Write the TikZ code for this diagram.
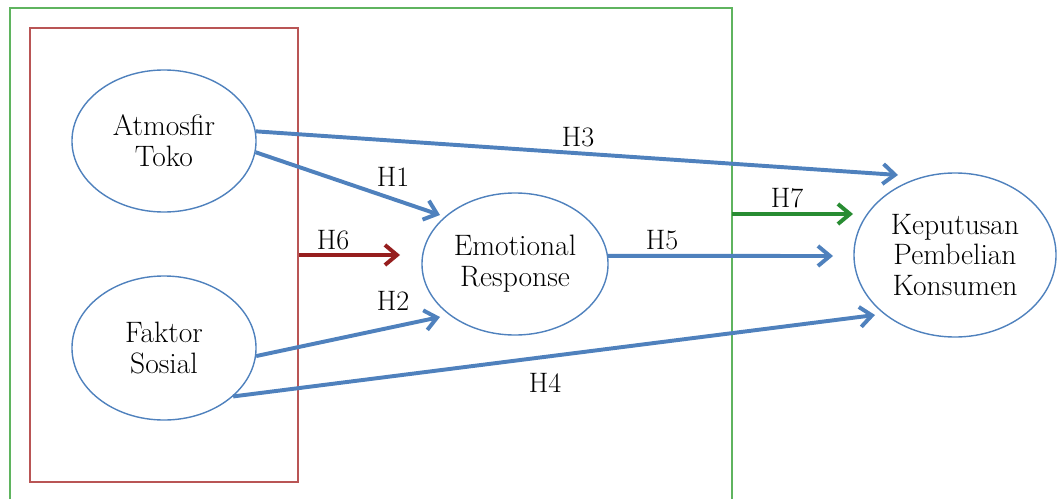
\documentclass[tikz,border=0pt]{standalone}
\usetikzlibrary{shapes.geometric,arrows.meta}
\definecolor{linkblue}{RGB}{79,129,189}
\definecolor{boxred}{RGB}{185,85,85}
\definecolor{darkred}{RGB}{150,30,30}
\definecolor{boxgreen}{RGB}{95,180,95}
\definecolor{darkgreen}{RGB}{40,140,50}
\tikzset{
  var/.style={ellipse,draw=linkblue,line width=1pt,align=center,inner sep=0pt,
    font=\fontsize{21}{22}\selectfont},
  link/.style={line width=2.8pt,-{Straight Barb[length=3mm,width=5mm]}},
  hyp/.style={font=\fontsize{20}{22}\selectfont}
}

\begin{document}
\begin{tikzpicture}[x=0.025cm,y=-0.025cm]
            \useasboundingbox (0,0) rectangle (1057,499);
            \draw[boxgreen,line width=1.6pt] (10,499)--(10,8)--(732,8)--(732,499);
            \coordinate (gr) at (732,214);
            \node[draw=boxred,line width=1.6pt,minimum width=6.7cm,minimum height=11.35cm] (grp) at (164,255) {};
            \node[var,minimum width=4.6cm,minimum height=3.55cm] (atm) at (164,141) {Atmosfir\\Toko};
            \node[var,minimum width=4.6cm,minimum height=3.6cm] (soc) at (164,348) {Faktor\\Sosial};
            \node[var,minimum width=4.65cm,minimum height=3.55cm] (emo) at (515,264) {Emotional\\Response};
            \node[var,minimum width=5.05cm,minimum height=4.1cm] (kpk) at (955,255) {Keputusan\\Pembelian\\Konsumen};
            \coordinate (e1) at (440,215);
            \coordinate (e2) at (440,317);
            \coordinate (e3) at (898,175);
            \coordinate (e4) at (875,315);
            \coordinate (e5) at (833,256);
            \coordinate (e6) at (400,255);
            \coordinate (e7) at (853,214);
            \draw[link,linkblue] (atm.6)--(e3);
            \draw[link,linkblue] (atm.-7)--(e1);
            \draw[link,linkblue] (soc.-5)--(e2);
            \draw[link,linkblue] (soc.-35)--(e4);
            \draw[link,linkblue] (emo.5)--(e5);
            \draw[link,darkred] (grp.east)--(e6);
            \draw[link,darkgreen] (gr)--(e7);
            \node[hyp] at (393,177) {H1};
            \node[hyp] at (393,301) {H2};
            \node[hyp] at (578,137) {H3};
            \node[hyp] at (545,383) {H4};
            \node[hyp] at (662,240) {H5};
            \node[hyp] at (333,240) {H6};
            \node[hyp] at (787,198) {H7};
        \end{tikzpicture}
\end{document}
